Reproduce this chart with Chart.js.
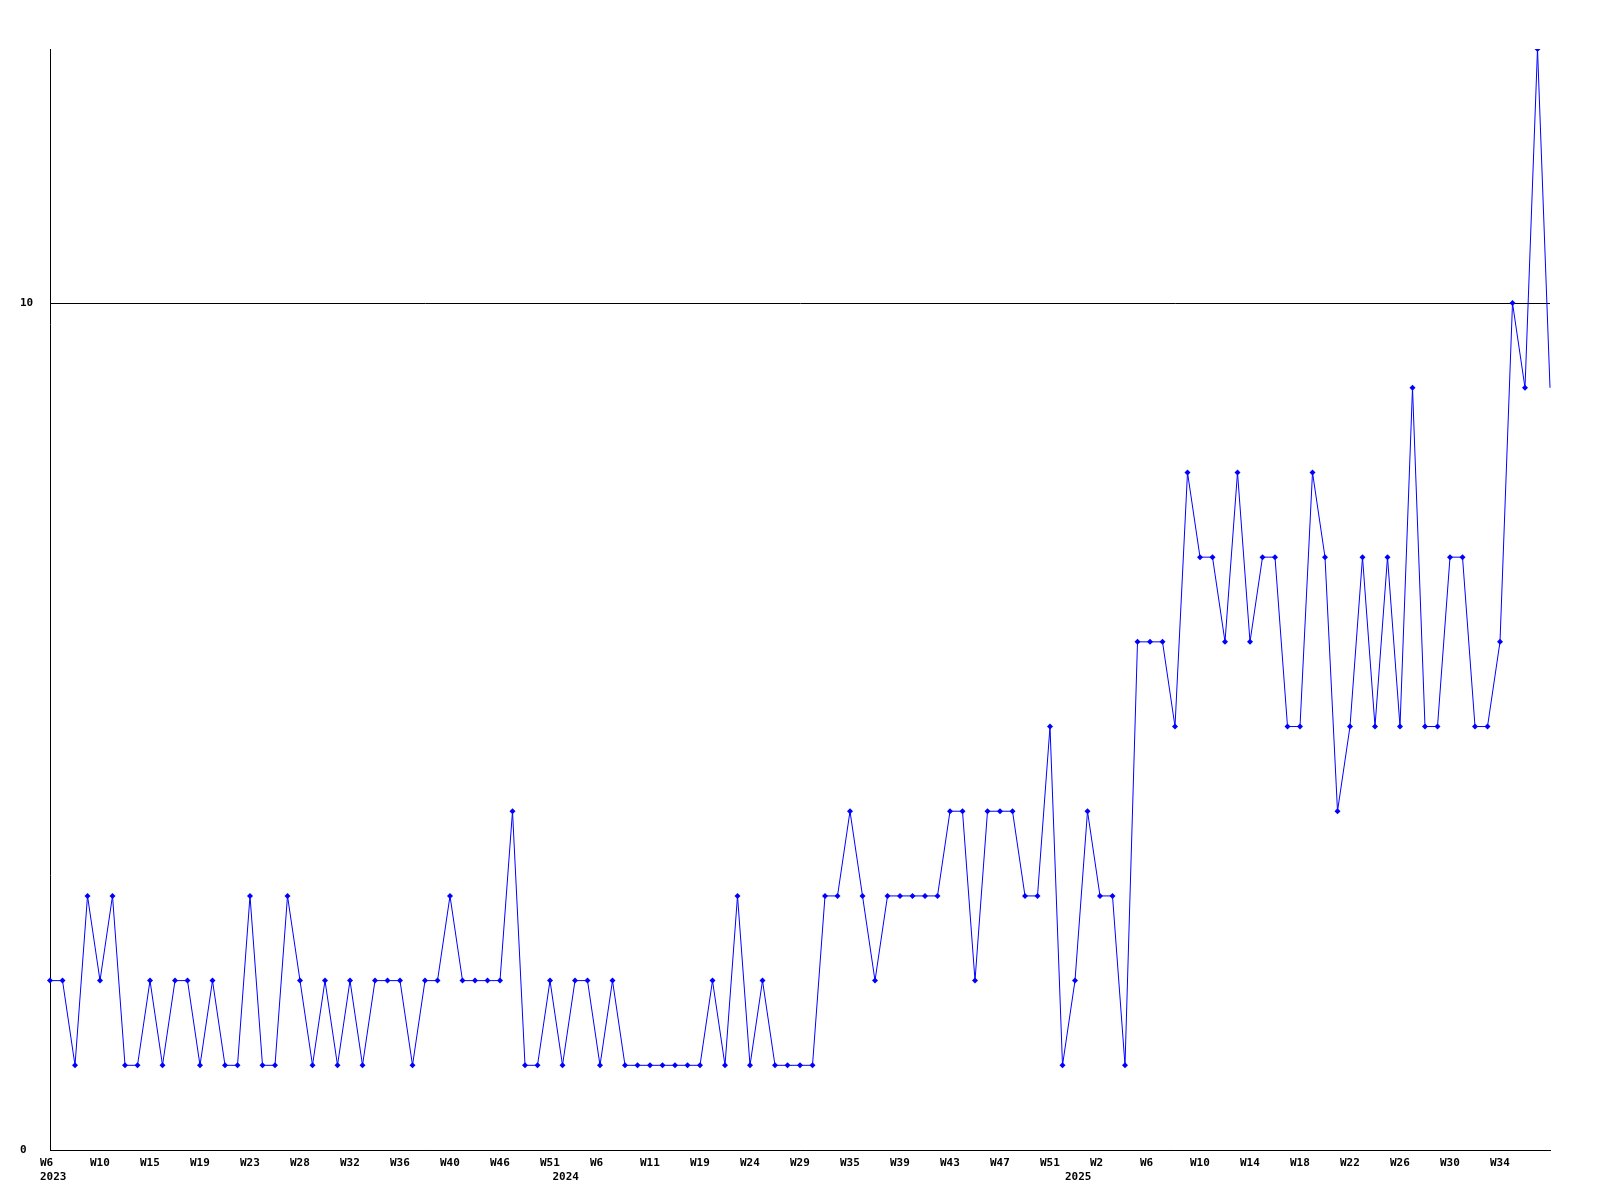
<!DOCTYPE html>
<html>
<head>
<meta charset="utf-8">
<title>Weekly count</title>
<script src="https://cdn.jsdelivr.net/npm/chart.js"></script>
<style>
  body { margin: 0; background: #fff; }
  canvas { display: block; }
</style>
</head>
<body>
<canvas id="weekly" width="1600" height="1200"></canvas>
<script>
  // week of each data point (only every 4th one is shown on the axis)
  var weeks = [
    'W6', 'W7', 'W8', 'W9', 'W10', 'W11', 'W12', 'W13', 'W15', 'W16', 'W17', 'W18',
    'W19', 'W20', 'W21', 'W22', 'W23', 'W24', 'W25', 'W26', 'W28', 'W29', 'W30', 'W31',
    'W32', 'W33', 'W34', 'W35', 'W36', 'W37', 'W38', 'W39', 'W40', 'W41', 'W42', 'W44',
    'W46', 'W47', 'W48', 'W49', 'W51', 'W1', 'W2', 'W4', 'W6', 'W7', 'W8', 'W10',
    'W11', 'W12', 'W14', 'W16', 'W19', 'W20', 'W21', 'W23', 'W24', 'W25', 'W26', 'W28',
    'W29', 'W30', 'W32', 'W33', 'W35', 'W36', 'W37', 'W38', 'W39', 'W40', 'W41', 'W42',
    'W43', 'W44', 'W45', 'W46', 'W47', 'W48', 'W49', 'W50', 'W51', 'W52', 'W1', 'W1',
    'W2', 'W3', 'W4', 'W5', 'W6', 'W7', 'W8', 'W9', 'W10', 'W11', 'W12', 'W13',
    'W14', 'W15', 'W16', 'W17', 'W18', 'W19', 'W20', 'W21', 'W22', 'W23', 'W24', 'W25',
    'W26', 'W27', 'W28', 'W29', 'W30', 'W31', 'W32', 'W33', 'W34', 'W35', 'W36', 'W37',
    'W38'
  ];

  // where a new year starts on the axis
  var yearStart = [0, 41, 82];
  var yearName = ['2023', '2024', '2025'];

  var counts = [
    2, 2, 1, 3, 2, 3, 1, 1, 2, 1,
    2, 2, 1, 2, 1, 1, 3, 1, 1, 3,
    2, 1, 2, 1, 2, 1, 2, 2, 2, 1,
    2, 2, 3, 2, 2, 2, 2, 4, 1, 1,
    2, 1, 2, 2, 1, 2, 1, 1, 1, 1,
    1, 1, 1, 2, 1, 3, 1, 2, 1, 1,
    1, 1, 3, 3, 4, 3, 2, 3, 3, 3,
    3, 3, 4, 4, 2, 4, 4, 4, 3, 3,
    5, 1, 2, 4, 3, 3, 1, 6, 6, 6,
    5, 8, 7, 7, 6, 8, 6, 7, 7, 5,
    5, 8, 7, 4, 5, 7, 5, 7, 5, 9,
    5, 5, 7, 7, 5, 5, 6, 10, 9, 13,
    9
  ];

  var yTicks = [0, 10];
  var yMax = 13;

  var tickFont = { family: 'DejaVu Sans Mono', size: 11, weight: 'bold', lineHeight: 1.3 };

  function xLabel(value, index) {
    // last point sits on the right edge and gets no label
    var w = (index % 4 === 0 && index < weeks.length - 1) ? weeks[index] : '';
    var y = yearStart.indexOf(index);
    if (y >= 0) {
      return [w, yearName[y]];
    }
    return w;
  }

  var ctx = document.getElementById('weekly').getContext('2d');

  new Chart(ctx, {
    type: 'line',
    data: {
      labels: weeks,
      datasets: [{
        data: counts,
        borderColor: '#0000ff',
        backgroundColor: '#0000ff',
        borderWidth: 1,
        tension: 0,
        pointStyle: 'rectRot',
        // no marker on the last (edge) point
        pointRadius: function (c) { return c.dataIndex === counts.length - 1 ? 0 : 3; },
        pointBorderWidth: 0,
        fill: false
      }]
    },
    options: {
      responsive: false,
      animation: false,
      devicePixelRatio: 1,
      layout: { padding: { left: 20, top: 49, right: 50, bottom: 0 } },
      plugins: {
        legend: { display: false },
        tooltip: { enabled: false }
      },
      scales: {
        x: {
          type: 'category',
          offset: false,
          grid: { display: false, drawTicks: false },
          border: { display: true, color: '#000', width: 1 },
          ticks: {
            autoSkip: false,
            maxRotation: 0,
            minRotation: 0,
            align: 'start',
            labelOffset: -10,
            padding: 6,
            color: '#000',
            font: tickFont,
            callback: xLabel
          },
          afterFit: function (scale) { scale.height = 50; }
        },
        y: {
          min: 0,
          max: yMax,
          grid: { color: '#000', lineWidth: 1, drawTicks: false },
          border: { display: true, color: '#000', width: 1 },
          ticks: {
            crossAlign: 'far',
            padding: 0,
            color: '#000',
            font: tickFont
          },
          afterBuildTicks: function (scale) {
            scale.ticks = yTicks.map(function (v) { return { value: v }; });
          },
          afterFit: function (scale) { scale.width = 30; }
        }
      }
    }
  });
</script>
</body>
</html>
